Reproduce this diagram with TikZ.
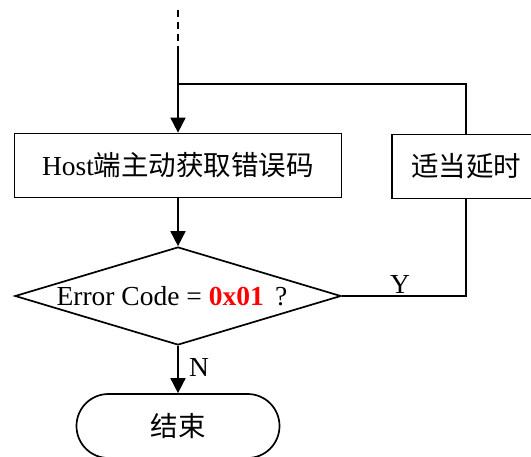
\documentclass[tikz,border=0pt]{standalone}
\usepackage{fontspec}
\setmainfont{Liberation Serif}
\newfontfamily\cjk{Noto Sans CJK SC}
\usetikzlibrary{arrows.meta,shapes.geometric}
\definecolor{codered}{RGB}{255,0,0}
\begin{document}
\begin{tikzpicture}[x=1pt,y=-1pt,line width=1.7pt,
  txt/.style={font=\fontsize{27.5}{32}\selectfont},
  procbox/.style={draw,rectangle,inner sep=0pt,minimum height=64pt,txt},
  decision/.style={draw,diamond,inner sep=0pt,minimum width=326pt,minimum height=98pt},
  terminal/.style={draw,rectangle,rounded corners=31.9pt,inner sep=0pt,minimum width=203pt,minimum height=64pt,txt},
  flow/.style={-{Triangle[length=15pt,width=15pt]}},
  lbl/.style={inner sep=0pt,txt}]
  \path[use as bounding box] (0,0) rectangle (531,456);
  \clip (0,0) rectangle (531,456);

  % nodes
  \node[procbox,minimum width=327pt] (fetch) at (178,165.5) {Host{\cjk 端主动获取错误码}};
  \node[procbox,minimum width=148pt] (delay) at (466,166.5) {\cjk 适当延时};
  \node[decision] (check) at (178,296) {};
  \node[lbl] (checktext) at (172,296) {Error Code = \textcolor{codered}{\textbf{0x01}} \,?};
  \node[terminal] (stop) at (178,426) {\cjk 结束};

  % incoming flow and retry loop
  \coordinate (entry) at (178,10);
  \coordinate (dashend) at (178,50);
  \coordinate (join) at (178,84);
  \draw[dash pattern=on 7pt off 5pt] (entry) -- (dashend);
  \draw[flow] (dashend) -- (fetch.north);
  \draw (delay.north) |- (join);

  % main flow
  \draw[flow] (fetch.south) -- (check.north);
  \draw (check.east) -| (delay.south);
  \draw[flow] (check.south) -- (stop.north);

  % branch labels
  \node[lbl] (yes) at (400,284) {Y};
  \node[lbl] (no) at (199,367) {N};
\end{tikzpicture}
\end{document}
